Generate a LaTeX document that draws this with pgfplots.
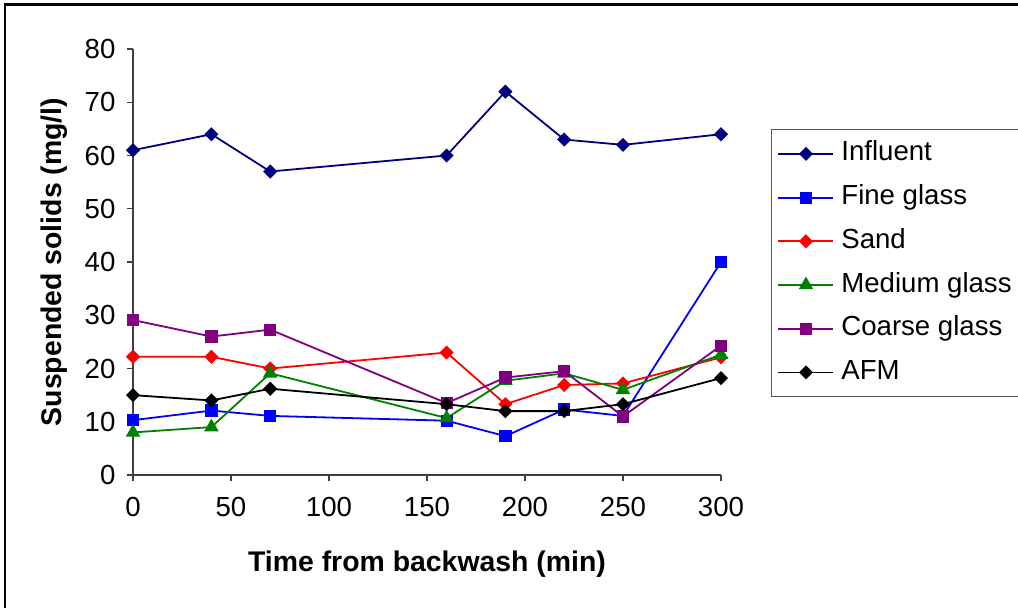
\documentclass[border=0pt]{standalone}
\usepackage{pgfplots}
\pgfplotsset{compat=1.18}
\usepackage{fontspec}
\setmainfont{Liberation Sans}
\definecolor{navyc}{RGB}{0,0,128}
\definecolor{bluec}{RGB}{0,0,255}
\definecolor{redc}{RGB}{255,0,0}
\definecolor{greenc}{RGB}{0,128,0}
\definecolor{purplec}{RGB}{128,0,128}
\begin{document}
\fontsize{13.8}{16}\selectfont
\begin{tikzpicture}
\useasboundingbox (0,0) rectangle (509pt,303.5pt);
\draw[line width=1pt] (2.5pt,-5pt) -- (2.5pt,301.25pt) -- (520pt,301.25pt);
\begin{axis}[
  at={(66.5pt,66pt)}, anchor=south west,
  scale only axis, width=294pt, height=213pt,
  xmin=0, xmax=300, ymin=0, ymax=80,
  xtick={0,50,...,300}, ytick={0,10,...,80},
  axis lines=left,
  axis line style={-, black!75, line width=0.6pt},
  tick style={black!75, line width=0.6pt},
  tick align=outside, major tick length=3pt,
  clip=false,
  /pgf/number format/assume math mode=true,
  ticklabel style={font=\fontsize{13.8}{16}\selectfont},
  xticklabel style={yshift=-3.5pt},
  yticklabel style={xshift=-1pt},
  xlabel={\bfseries Time from backwash (min)},
  ylabel={\bfseries Suspended solids (mg/l)},
  label style={font=\fontsize{14.2}{17}\selectfont},
  xlabel style={at={(axis description cs:0.5,-0.226)}, anchor=base},
  ylabel style={at={(axis description cs:-0.121,0.5)}, anchor=base},
  legend style={at={(axis description cs:1.085,0.812)}, anchor=north west,
    draw=black!65, line width=0.6pt, font=\fontsize{13.8}{16}\selectfont,
    row sep=4.85pt, inner xsep=3pt, inner ysep=3.6pt,
    nodes={text height=10pt, text depth=3pt, inner ysep=2pt},
    /tikz/every odd column/.append style={column sep=1.5pt}},
  legend cell align=left,
  legend image code/.code={\draw[mark repeat=2,mark phase=2] plot coordinates {(0pt,0pt) (13.75pt,0pt) (27.5pt,0pt)};},
  every axis plot/.append style={line width=0.9pt},
]
\addplot[color=navyc, mark=square*, mark size=2.05pt, mark options={rotate=45, solid}] coordinates {
  (0,61) (40,64) (70,57) (160,60) (190,72) (220,63) (250,62) (300,64)};
\addlegendentry{Influent}
\addplot[color=bluec, mark=square*, mark size=2.6pt] coordinates {
  (0,10.3) (40,12.1) (70,11.1) (160,10.2) (190,7.3) (220,12.3) (250,11.1) (300,40)};
\addlegendentry{Fine glass}
\addplot[color=redc, mark=square*, mark size=2.05pt, mark options={rotate=45}] coordinates {
  (0,22.2) (40,22.2) (70,20) (160,23) (190,13.3) (220,16.9) (250,17.2) (300,22.1)};
\addlegendentry{Sand}
\addplot[color=greenc, mark=triangle*, mark size=3.3pt] coordinates {
  (0,8) (40,9) (70,19.1) (160,10.7) (190,17.7) (220,19.1) (250,16) (300,22.6)};
\addlegendentry{Medium glass\hspace*{10pt}}
\addplot[color=purplec, mark=square*, mark size=2.6pt] coordinates {
  (0,29.1) (40,26) (70,27.3) (160,13.5) (190,18.3) (220,19.5) (250,11) (300,24.3)};
\addlegendentry{Coarse glass}
\addplot[color=black, mark=square*, mark size=2.05pt, mark options={rotate=45}] coordinates {
  (0,15) (40,14) (70,16.2) (160,13.3) (190,12) (220,12) (250,13.3) (300,18.2)};
\addlegendentry{AFM}
\end{axis}
\end{tikzpicture}
\end{document}
